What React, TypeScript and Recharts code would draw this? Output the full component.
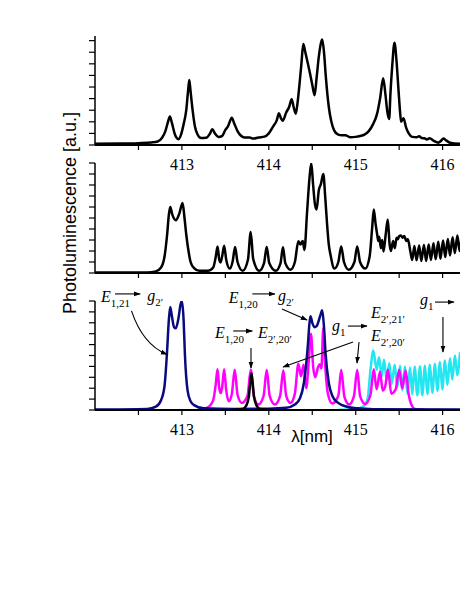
import React from "react";
import { Line, LineChart, XAxis, YAxis } from "recharts";

type Pt = [number, number];

// wavelength ticks (nm); labels only on whole numbers
const xTicks = [412.5, 413, 413.5, 414, 414.5, 415, 415.5, 416];
const topYTicks = [0, 1, 2, 3, 4, 5, 6, 7, 8, 9];
const panelYTicks = [0, 1, 2, 3, 4, 5, 6, 7, 8, 9, 10];

// measured spectrum (top panel)
const measured: Pt[] = [
  [412.0, 0.1], [412.3, 0.12], [412.5, 0.16], [412.65, 0.22], [412.72, 0.3], [412.77, 0.6],
  [412.81, 1.2], [412.84, 2.0], [412.862, 2.45], [412.885, 1.9], [412.92, 0.9], [412.96, 0.5],
  [412.99, 0.9], [413.02, 1.8], [413.05, 3.0], [413.07, 4.6], [413.085, 5.6], [413.1, 4.6],
  [413.12, 3.2], [413.15, 1.6], [413.18, 0.9], [413.22, 0.6], [413.28, 0.62], [413.32, 0.95],
  [413.35, 1.35], [413.38, 1.0], [413.42, 0.7], [413.46, 0.75], [413.5, 1.3], [413.53, 1.6],
  [413.574, 2.35], [413.6, 1.9], [413.64, 1.2], [413.68, 0.8], [413.72, 0.65], [413.78, 0.65],
  [413.82, 0.55], [413.88, 0.65], [413.95, 0.72], [414.0, 1.0], [414.05, 1.6], [414.09, 2.1],
  [414.117, 2.73], [414.14, 2.3], [414.16, 2.1], [414.2, 2.8], [414.235, 3.3], [414.263, 3.94],
  [414.285, 3.3], [414.31, 2.7], [414.33, 3.6], [414.35, 5.0], [414.375, 7.0], [414.397, 8.7],
  [414.42, 8.0], [414.45, 7.0], [414.473, 6.2], [414.5, 5.2], [414.527, 4.3], [414.55, 5.8],
  [414.575, 7.6], [414.6, 8.8], [414.615, 9.1], [414.635, 8.0], [414.655, 6.0], [414.675, 4.3],
  [414.69, 3.3], [414.72, 2.0], [414.75, 1.3], [414.8, 0.9], [414.84, 0.85], [414.88, 0.85],
  [414.94, 0.66], [415.0, 0.7], [415.05, 0.78], [415.1, 0.9], [415.15, 1.2], [415.2, 1.8],
  [415.247, 2.73], [415.28, 4.0], [415.316, 5.75], [415.34, 4.5], [415.365, 2.8], [415.385, 2.24],
  [415.4, 4.5], [415.42, 6.8], [415.446, 8.82], [415.47, 7.2], [415.49, 5.0], [415.51, 2.9],
  [415.522, 2.0], [415.55, 2.3], [415.58, 1.5], [415.61, 1.0], [415.65, 0.7], [415.7, 0.66],
  [415.73, 0.76], [415.76, 0.6], [415.79, 0.58], [415.82, 0.48], [415.85, 0.58], [415.9, 0.35],
  [415.95, 0.2], [415.98, 0.35], [416.01, 0.55], [416.04, 0.4], [416.085, 0.2], [416.2, 0.1],
];

// simulated total (middle panel)
const simulated: Pt[] = [
  [412.0, 0.05], [412.6, 0.05], [412.7, 0.15], [412.76, 0.5], [412.8, 1.5], [412.83, 3.5],
  [412.85, 5.3], [412.866, 6.0], [412.89, 5.3], [412.93, 4.8], [412.97, 5.4], [413.008, 6.36],
  [413.03, 5.0], [413.05, 3.5], [413.08, 1.8], [413.1, 1.0], [413.14, 0.45], [413.2, 0.2],
  [413.3, 0.2], [413.36, 0.5], [413.39, 1.5], [413.41, 2.42], [413.43, 1.2], [413.445, 0.96],
  [413.465, 1.6], [413.486, 2.48], [413.51, 1.2], [413.55, 0.4], [413.585, 1.1], [413.612, 2.36],
  [413.64, 1.0], [413.7, 0.2], [413.76, 1.2], [413.792, 3.73], [413.82, 1.3], [413.89, 0.2],
  [413.945, 0.9], [413.976, 2.36], [414.005, 0.9], [414.08, 0.2], [414.135, 0.9], [414.163, 2.33],
  [414.19, 0.9], [414.25, 0.3], [414.3, 1.0], [414.34, 2.88], [414.365, 2.6], [414.39, 2.9],
  [414.41, 2.1], [414.44, 5.5], [414.47, 8.8], [414.489, 9.97], [414.51, 8.0], [414.53, 6.3],
  [414.55, 5.78], [414.575, 7.5], [414.6, 8.1], [414.627, 8.99], [414.65, 6.8], [414.67, 4.5],
  [414.69, 2.6], [414.71, 1.65], [414.755, 0.4], [414.8, 1.0], [414.833, 2.42], [414.865, 1.0],
  [414.92, 0.3], [414.985, 1.0], [415.017, 2.42], [415.05, 1.0], [415.11, 0.4], [415.16, 1.5],
  [415.19, 4.2], [415.208, 5.78], [415.228, 4.5], [415.247, 3.5], [415.26, 2.9], [415.27, 3.3],
  [415.29, 2.26], [415.305, 3.0], [415.32, 1.96], [415.345, 3.5], [415.369, 4.86], [415.39, 2.6],
  [415.405, 2.0], [415.43, 2.9], [415.45, 2.26], [415.47, 3.2], [415.485, 3.06], [415.5, 3.36],
  [415.52, 3.4], [415.54, 3.2], [415.56, 3.36], [415.58, 2.9], [415.6, 3.06], [415.63, 1.9],
  [415.65, 1.19], [415.675, 2.45], [415.7, 1.15], [415.73, 2.5], [415.755, 1.1], [415.785, 2.55],
  [415.81, 1.1], [415.84, 2.6], [415.865, 1.19], [415.895, 2.7], [415.92, 1.25], [415.95, 2.85],
  [415.975, 1.3], [416.005, 2.95], [416.03, 1.45], [416.06, 3.1], [416.085, 1.6], [416.115, 3.25],
  [416.14, 1.8], [416.17, 3.4], [416.195, 2.0], [416.22, 3.5],
];

// components (bottom panel)
const navyBand: Pt[] = [
  [412.0, 0.05], [412.6, 0.1], [412.7, 0.3], [412.76, 0.9], [412.8, 2.2], [412.828, 5.2],
  [412.85, 8.3], [412.866, 9.46], [412.885, 8.6], [412.91, 7.6], [412.93, 7.5], [412.96, 8.4],
  [412.985, 9.7], [413.0, 10.0], [413.02, 8.2], [413.034, 5.2], [413.065, 1.8], [413.1, 0.8],
  [413.14, 0.45], [413.25, 0.15], [413.6, 0.1], [414.0, 0.12], [414.2, 0.2], [414.3, 0.5],
  [414.36, 1.1], [414.404, 2.5], [414.43, 4.2], [414.45, 6.0], [414.468, 8.0], [414.48, 8.6],
  [414.5, 8.0], [414.525, 7.6], [414.55, 7.7], [414.59, 8.6], [414.615, 9.15], [414.635, 7.6],
  [414.653, 5.2], [414.69, 2.5], [414.73, 1.3], [414.79, 0.7], [414.9, 0.3], [415.02, 0.15],
  [415.2, 0.08], [416.2, 0.05],
];

const magentaBand: Pt[] = [
  [413.2, 0.05], [413.3, 0.25], [413.36, 0.9], [413.39, 2.4], [413.41, 3.75], [413.43, 2.0],
  [413.448, 1.55], [413.465, 2.2], [413.486, 3.75], [413.51, 1.8], [413.54, 0.8], [413.575, 1.5],
  [413.608, 3.7], [413.64, 1.4], [413.69, 0.65], [413.755, 1.3], [413.792, 3.7], [413.83, 1.2],
  [413.88, 0.5], [413.94, 1.3], [413.976, 3.7], [414.01, 1.3], [414.07, 0.5], [414.13, 1.3],
  [414.167, 3.65], [414.2, 1.3], [414.25, 0.65], [414.3, 1.5], [414.34, 4.24], [414.37, 3.1],
  [414.4, 4.15], [414.43, 2.0], [414.46, 4.5], [414.485, 7.0], [414.51, 4.0], [414.535, 3.0],
  [414.565, 3.9], [414.588, 4.2], [414.605, 3.8], [414.627, 7.5], [414.65, 4.0], [414.68, 1.5],
  [414.73, 0.6], [414.8, 1.3], [414.833, 3.7], [414.87, 1.2], [414.925, 0.5], [414.98, 1.3],
  [415.017, 3.7], [415.05, 1.3], [415.11, 0.55], [415.17, 1.4], [415.208, 3.75], [415.24, 1.9],
  [415.28, 3.5], [415.31, 1.8], [415.34, 2.2], [415.37, 3.7], [415.41, 1.5], [415.46, 1.9],
  [415.5, 3.7], [415.535, 2.0], [415.575, 3.6], [415.61, 1.4], [415.64, 0.5], [415.68, 0.1],
  [415.8, 0.02],
];

const cyanBand: Pt[] = [
  [414.8, 0.02], [415.0, 0.1], [415.1, 0.4], [415.14, 1.2], [415.17, 3.7], [415.203, 5.47],
  [415.241, 3.7], [415.268, 4.85], [415.299, 3.1], [415.326, 4.6], [415.356, 2.75], [415.387, 4.3],
  [415.414, 2.4], [415.448, 4.15], [415.479, 2.1], [415.51, 4.05], [415.536, 1.8], [415.567, 4.0],
  [415.594, 1.5], [415.625, 3.9], [415.651, 1.45], [415.678, 4.0], [415.709, 1.35], [415.74, 4.0],
  [415.766, 1.35], [415.797, 4.05], [415.824, 1.45], [415.854, 4.15], [415.881, 1.55], [415.912, 4.25],
  [415.939, 1.75], [415.97, 4.4], [415.996, 1.9], [416.027, 4.55], [416.054, 2.3], [416.085, 4.75],
  [416.111, 2.8], [416.142, 5.0], [416.169, 3.2], [416.2, 5.3],
];

const blackBand: Pt[] = [
  [413.55, 0.02], [413.7, 0.1], [413.74, 0.4], [413.77, 1.2], [413.785, 2.4], [413.8, 3.38],
  [413.815, 2.4], [413.83, 1.2], [413.86, 0.4], [413.9, 0.1], [414.05, 0.02],
];

const W = 460;
const PLOT_LEFT = 95;
const X_DOMAIN: [number, number] = [412, 416.2];
const SERIF = "'Liberation Serif', 'Times New Roman', serif";
const SANS = "'Liberation Sans', Arial, sans-serif";

// bottom panel geometry, used to place the annotations in data units
const B_TOP = 301;
const B_BOTTOM = 410;
const bx = (l: number) => PLOT_LEFT + ((l - X_DOMAIN[0]) / (X_DOMAIN[1] - X_DOMAIN[0])) * (W - PLOT_LEFT);
const by = (v: number) => B_BOTTOM - (v / 10) * (B_BOTTOM - B_TOP);

const toRows = (pts: Pt[]) => pts.map(([x, y]) => ({ x, y }));

function Panel({
  top,
  bottom,
  yMax,
  yTicks,
  labels,
  children,
}: {
  top: number;
  bottom: number;
  yMax: number;
  yTicks: number[];
  labels: boolean;
  children: React.ReactNode;
}) {
  return (
    <div style={{ position: "absolute", left: 0, top: 0 }}>
      <LineChart width={W} height={bottom + 30} margin={{ top, right: 0, bottom: 0, left: 0 }}>
        <XAxis
          type="number"
          dataKey="x"
          domain={X_DOMAIN}
          ticks={xTicks}
          interval={0}
          allowDataOverflow
          height={30}
          tickSize={5}
          tickMargin={9}
          tickFormatter={(v: number) => (labels && Number.isInteger(v) ? String(v) : "")}
          tick={{ fill: "#000", fontSize: 16, fontFamily: SERIF }}
          axisLine={{ stroke: "#000", strokeWidth: 2 }}
          tickLine={{ stroke: "#000", strokeWidth: 1.2 }}
        />
        <YAxis
          type="number"
          domain={[0, yMax]}
          ticks={yTicks}
          interval={0}
          allowDataOverflow
          width={PLOT_LEFT}
          tickSize={6}
          tickFormatter={() => ""}
          axisLine={{ stroke: "#000", strokeWidth: 1.5 }}
          tickLine={{ stroke: "#000", strokeWidth: 1.2 }}
        />
        {children}
      </LineChart>
    </div>
  );
}

function trace(pts: Pt[], color: string, key: string) {
  return (
    <Line
      key={key}
      data={toRows(pts)}
      dataKey="y"
      type="monotone"
      stroke={color}
      strokeWidth={2.5}
      dot={false}
      activeDot={false}
      isAnimationActive={false}
    />
  );
}

function Term({ l, v, sym, sub }: { l: number; v: number; sym: string; sub: string }) {
  return (
    <text x={bx(l)} y={by(v)} fontFamily={SERIF} fontSize={16} fill="#000">
      <tspan fontStyle="italic">{sym}</tspan>
      <tspan fontSize={11} dy={5}>{sub}</tspan>
    </text>
  );
}

function Arrow({ a, b, c }: { a: Pt; b: Pt; c?: Pt }) {
  const d = c
    ? `M${bx(a[0])},${by(a[1])} Q${bx(c[0])},${by(c[1])} ${bx(b[0])},${by(b[1])}`
    : `M${bx(a[0])},${by(a[1])} L${bx(b[0])},${by(b[1])}`;
  return <path d={d} stroke="#000" strokeWidth={1.1} fill="none" markerEnd="url(#head)" />;
}

function Annotations() {
  return (
    <svg
      width={W}
      height={595}
      style={{ position: "absolute", left: 0, top: 0, pointerEvents: "none" }}
    >
      <defs>
        <marker
          id="head"
          viewBox="0 0 10 10"
          refX={9}
          refY={5}
          markerWidth={7}
          markerHeight={7}
          markerUnits="userSpaceOnUse"
          orient="auto"
        >
          <path d="M0,1.5 L10,5 L0,8.5 z" fill="#000" />
        </marker>
      </defs>

      <text
        transform="translate(76,213) rotate(-90)"
        textAnchor="middle"
        fontFamily={SANS}
        fontSize={18}
        fill="#000"
      >
        Photoluminescence [a.u.]
      </text>
      <text x={312} y={442} textAnchor="middle" fontFamily={SANS} fontSize={17} fill="#000">
        λ[nm]
      </text>

      {/* E1,21 -> g2' */}
      <Term l={412.07} v={9.9} sym="E" sub="1,21" />
      <Arrow a={[412.23, 10.65]} b={[412.52, 10.65]} />
      <Term l={412.6} v={10.0} sym="g" sub="2′" />
      <Arrow a={[412.42, 9.1]} c={[412.55, 6.0]} b={[412.83, 5.1]} />

      {/* E1,20 -> g2' */}
      <Term l={413.54} v={9.82} sym="E" sub="1,20" />
      <Arrow a={[413.81, 10.65]} b={[414.07, 10.65]} />
      <Term l={414.106} v={10.0} sym="g" sub="2′" />
      <Arrow a={[414.152, 9.27]} b={[414.44, 8.26]} />

      {/* E1,20 -> E2',20' */}
      <Term l={413.381} v={6.6} sym="E" sub="1,20" />
      <Arrow a={[413.59, 7.25]} b={[413.81, 7.25]} />
      <Term l={413.876} v={6.6} sym="E" sub="2′,20′" />
      <Arrow a={[413.795, 5.69]} b={[413.795, 3.85]} />

      {/* g1 -> E2',21' / E2',20' */}
      <Term l={414.727} v={7.25} sym="g" sub="1" />
      <Arrow a={[414.91, 7.7]} b={[415.13, 7.7]} />
      <Term l={415.176} v={8.44} sym="E" sub="2′,21′" />
      <Term l={415.176} v={6.33} sym="E" sub="2′,20′" />
      <Arrow a={[414.969, 6.24]} b={[414.164, 3.94]} />
      <Arrow a={[415.038, 6.24]} b={[415.015, 4.31]} />

      {/* g1 -> */}
      <Term l={415.74} v={9.63} sym="g" sub="1" />
      <Arrow a={[415.912, 9.9]} b={[416.13, 9.9]} />
      <Arrow a={[416.004, 8.53]} b={[416.004, 5.32]} />
    </svg>
  );
}

export default function App() {
  return (
    <div style={{ position: "absolute", left: 0, top: 0, width: W, height: 595, background: "#fff" }}>
      <Panel top={36} bottom={145} yMax={9.4} yTicks={topYTicks} labels>
        {trace(measured, "#000", "measured")}
      </Panel>
      <Panel top={163} bottom={273} yMax={10} yTicks={panelYTicks} labels={false}>
        {trace(simulated, "#000", "simulated")}
      </Panel>
      <Panel top={B_TOP} bottom={B_BOTTOM} yMax={10} yTicks={panelYTicks} labels>
        {trace(cyanBand, "#22e6f0", "cyan")}
        {trace(magentaBand, "#ff00ff", "magenta")}
        {trace(navyBand, "#0a0a80", "navy")}
        {trace(blackBand, "#000", "black")}
      </Panel>
      <Annotations />
    </div>
  );
}
